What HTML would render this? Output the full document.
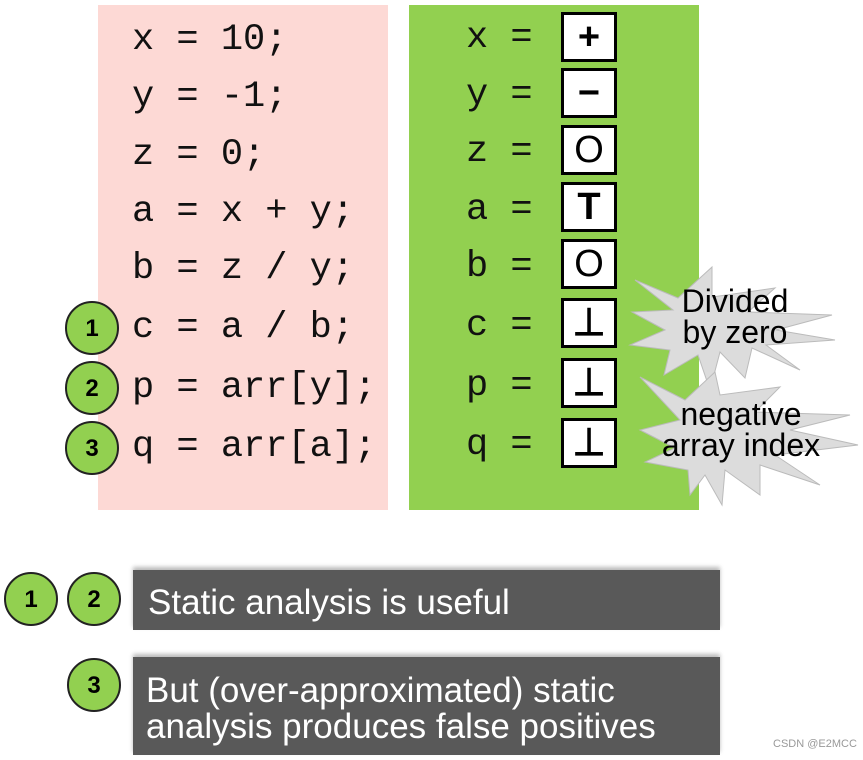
<!DOCTYPE html>
<html><head><meta charset="utf-8"><style>
body{margin:0;width:863px;height:760px;background:#fff;position:relative;overflow:hidden;font-family:"Liberation Sans",sans-serif}
.abs{position:absolute}
.code{font-family:"Liberation Mono",monospace;font-size:37px;color:#111;white-space:pre;line-height:40px}
.box{position:absolute;left:561px;width:50px;height:44px;border:3px solid #000;background:#fff;font-size:38px;text-align:center;line-height:44px;color:#000}
.circ{position:absolute;width:50px;height:50px;border:2px solid #222;border-radius:50%;background:#92d050;font-weight:bold;font-size:24px;text-align:center;line-height:52px;color:#000}
.bar{position:absolute;left:133px;width:587px;background:#595959;color:#fff;font-size:35px;box-shadow:0 -3px 4px #bbb;white-space:nowrap}
</style></head><body>
<div class="abs" style="left:98px;top:5px;width:290px;height:505px;background:#fdd9d5"></div>
<div class="abs" style="left:409px;top:5px;width:290px;height:505px;background:#92d050"></div>

<div class="abs code" style="left:132px;top:20px">x = 10;</div>
<div class="abs code" style="left:132px;top:77px">y = -1;</div>
<div class="abs code" style="left:132px;top:135px">z = 0;</div>
<div class="abs code" style="left:132px;top:192px">a = x + y;</div>
<div class="abs code" style="left:132px;top:249px">b = z / y;</div>
<div class="abs code" style="left:132px;top:308px">c = a / b;</div>
<div class="abs code" style="left:132px;top:368px">p = arr[y];</div>
<div class="abs code" style="left:132px;top:427px">q = arr[a];</div>

<div class="abs code" style="left:466px;top:18px">x =</div>
<div class="abs code" style="left:466px;top:75px">y =</div>
<div class="abs code" style="left:466px;top:132px">z =</div>
<div class="abs code" style="left:466px;top:190px">a =</div>
<div class="abs code" style="left:466px;top:247px">b =</div>
<div class="abs code" style="left:466px;top:306px">c =</div>
<div class="abs code" style="left:466px;top:366px">p =</div>
<div class="abs code" style="left:466px;top:425px">q =</div>

<div class="box" style="top:12px;font-weight:bold">+</div>
<div class="box" style="top:68px;font-weight:bold">−</div>
<div class="box" style="top:125px">O</div>
<div class="box" style="top:182px;font-weight:bold">T</div>
<div class="box" style="top:239px">O</div>
<div class="box" style="top:298px;font-weight:bold">⊥</div>
<div class="box" style="top:358px;font-weight:bold">⊥</div>
<div class="box" style="top:418px;font-weight:bold">⊥</div>

<svg class="abs" style="left:0;top:0" width="863" height="760">
<polygon fill="#dcdcdc" stroke="#bbb" points="635,280 678,298 712,267 712,297 775,288 748,312 832,315 776,330 835,340 766,345 800,370 752,348 745,378 720,352 710,390 698,355 664,375 670,350 630,345 665,330 632,312 673,310" />
<polygon fill="#dcdcdc" stroke="#bbb" points="640,377 685,400 715,372 720,395 780,387 755,412 850,415 790,430 858,445 775,455 820,485 760,465 760,495 725,470 722,505 705,475 690,495 688,470 645,462 675,448 640,430 680,420" />
</svg>
<div class="abs" style="left:655px;top:286px;width:160px;text-align:center;font-size:32px;line-height:31px;color:#000">Divided<br>by zero</div>
<div class="abs" style="left:635px;top:399px;width:212px;text-align:center;font-size:32px;line-height:31px;color:#000">negative<br>array index</div>

<div class="circ" style="left:65px;top:301px">1</div>
<div class="circ" style="left:65px;top:361px">2</div>
<div class="circ" style="left:65px;top:421px">3</div>

<div class="circ" style="left:4px;top:572px">1</div>
<div class="circ" style="left:67px;top:572px">2</div>
<div class="circ" style="left:67px;top:658px">3</div>

<div class="bar" style="top:570px;height:60px;line-height:66px;padding-left:15px;box-sizing:border-box">Static analysis is useful</div>
<div class="bar" style="top:657px;height:98px;line-height:36px;padding:16px 0 0 13px;box-sizing:border-box">But (over-approximated) static<br>analysis produces false positives</div>

<div class="abs" style="left:773px;top:738px;font-size:11px;color:#999">CSDN @E2MCC</div>
</body></html>
